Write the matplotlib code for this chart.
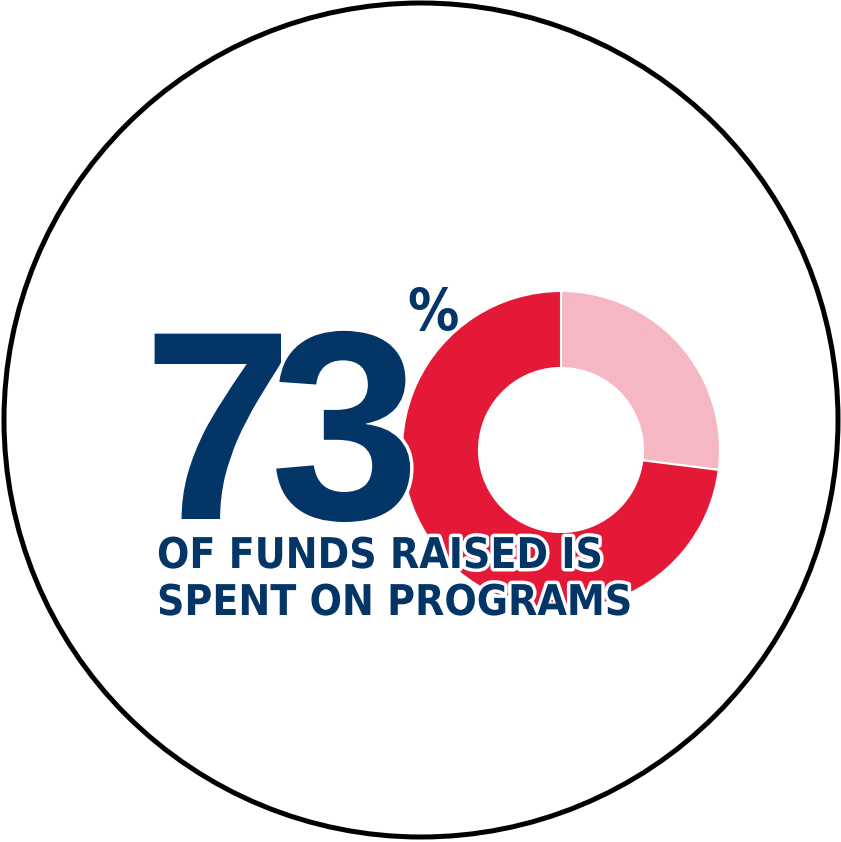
import matplotlib
matplotlib.use("Agg")
import matplotlib.pyplot as plt
import matplotlib.patheffects as pe
from matplotlib.patches import Circle

# data
labels = ["Other", "Programs"]
shares = [27, 73]
colors = ["#F5B7C3", "#E31937"]
digits = ["7", "3"]
caption_lines = ["OF FUNDS RAISED IS", "SPENT ON PROGRAMS"]
NAVY = "#033566"

W, H = 841, 842
fig = plt.figure(figsize=(W / 100, H / 100), dpi=100)
ax = fig.add_axes([0, 0, 1, 1])

# outer ring
ax.add_patch(Circle((421, H - 420), 417, fill=False, edgecolor="black", lw=3.6))

# donut
ax.pie(shares, colors=colors, startangle=90, counterclock=False,
       center=(561, H - 450), radius=159, frame=True,
       wedgeprops=dict(width=77, edgecolor="white", linewidth=1.5))
ax.set_xlim(0, W)
ax.set_ylim(0, H)
ax.set_aspect("equal")
ax.axis("off")

outline = [pe.withStroke(linewidth=5, foreground="white")]

# big number, digits set a little tighter than the font's default spacing
for d, x in zip(digits, [143, 270]):
    ax.text(x, H - 519, d, fontsize=194, fontweight="bold",
            family="Liberation Sans", color=NAVY, ha="left", va="baseline",
            path_effects=outline)
ax.text(407, H - 330, "%", fontsize=41, fontweight="bold", fontstretch="condensed",
        family="DejaVu Sans", color=NAVY, ha="left", va="baseline")

for line, yb in zip(caption_lines, [568, 615]):
    ax.text(157, H - yb, line, fontsize=30.5, fontweight="bold", fontstretch="condensed",
            family="DejaVu Sans", color=NAVY, ha="left", va="baseline",
            path_effects=outline)

fig.savefig("out.png", dpi=100, facecolor="white")
